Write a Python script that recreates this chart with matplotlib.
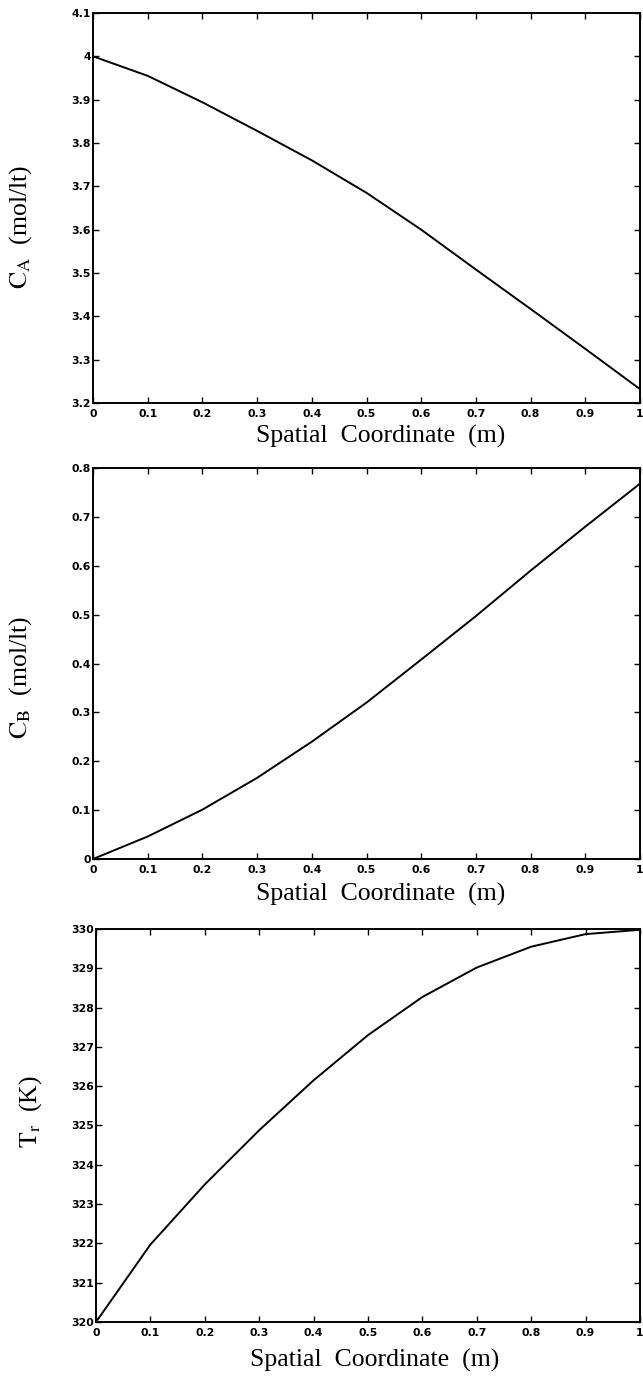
import matplotlib
matplotlib.use("Agg")
import matplotlib.pyplot as plt
from matplotlib.ticker import FuncFormatter

# Data
x = [0.0, 0.1, 0.2, 0.3, 0.4, 0.5, 0.6, 0.7, 0.8, 0.9, 1.0]
ca = [4.000, 3.955, 3.894, 3.828, 3.760, 3.685, 3.600, 3.508, 3.417, 3.325, 3.232]
cb = [0.000, 0.046, 0.101, 0.166, 0.240, 0.320, 0.408, 0.497, 0.590, 0.680, 0.768]
tr = [320.00, 321.97, 323.50, 324.88, 326.15, 327.30, 328.27, 329.02, 329.55, 329.87, 329.98]

x_ticks = [0, 0.1, 0.2, 0.3, 0.4, 0.5, 0.6, 0.7, 0.8, 0.9, 1]
ca_ticks = [3.2, 3.3, 3.4, 3.5, 3.6, 3.7, 3.8, 3.9, 4.0, 4.1]
cb_ticks = [0, 0.1, 0.2, 0.3, 0.4, 0.5, 0.6, 0.7, 0.8]
tr_ticks = [320, 321, 322, 323, 324, 325, 326, 327, 328, 329, 330]

xlabel = "Spatial  Coordinate  (m)"
ylabels = [r"$\mathrm{C_A}$  (mol/lt)", r"$\mathrm{C_B}$  (mol/lt)", r"$\mathrm{T_r}$  (K)"]

plt.rcParams["mathtext.fontset"] = "stix"

W, H = 643, 1376
fig = plt.figure(figsize=(W / 100, H / 100), dpi=100)

def rect(left, top, right, bottom):
    return [left / W, 1 - bottom / H, (right - left) / W, (bottom - top) / H]

axes = [
    fig.add_axes(rect(93, 13, 640, 403)),
    fig.add_axes(rect(93, 468, 640, 859)),
    fig.add_axes(rect(96, 929, 640, 1322)),
]
series = [ca, cb, tr]
yticks = [ca_ticks, cb_ticks, tr_ticks]
# label anchor positions (pixels): xlabel centre x / baseline y, ylabel centre x / y
xlab_pos = [(381, 443), (381, 901), (375, 1367)]
ylab_pos = [(21, 227), (21, 677), (31, 1112)]

fmt = FuncFormatter(lambda v, p: "%g" % round(v, 4))

for ax, y, yt, yl, xp, yp in zip(axes, series, yticks, ylabels, xlab_pos, ylab_pos):
    ax.plot(x, y, color="black", linewidth=1.4)
    ax.set_xlim(0, 1)
    ax.set_ylim(yt[0], yt[-1])
    ax.set_xticks(x_ticks)
    ax.set_yticks(yt)
    ax.xaxis.set_major_formatter(fmt)
    ax.yaxis.set_major_formatter(fmt)
    ax.tick_params(direction="in", length=4.3, width=1.0, top=True, right=True)
    ax.tick_params(axis="x", pad=4.5)
    ax.tick_params(axis="y", pad=1.5)
    for lab in ax.get_xticklabels() + ax.get_yticklabels():
        lab.set_fontfamily("DejaVu Sans")
        lab.set_fontweight("bold")
        lab.set_fontsize(7.8)
    for s in ax.spines.values():
        s.set_linewidth(1.4)
    fig.text(xp[0] / W, 1 - xp[1] / H, xlabel, family="Liberation Serif",
             fontsize=18.5, ha="center", va="baseline")
    fig.text(yp[0] / W, 1 - yp[1] / H, yl, family="Liberation Serif",
             fontsize=18.5, ha="center", va="center", rotation=90)

fig.savefig("out.png", dpi=100, facecolor="white")
